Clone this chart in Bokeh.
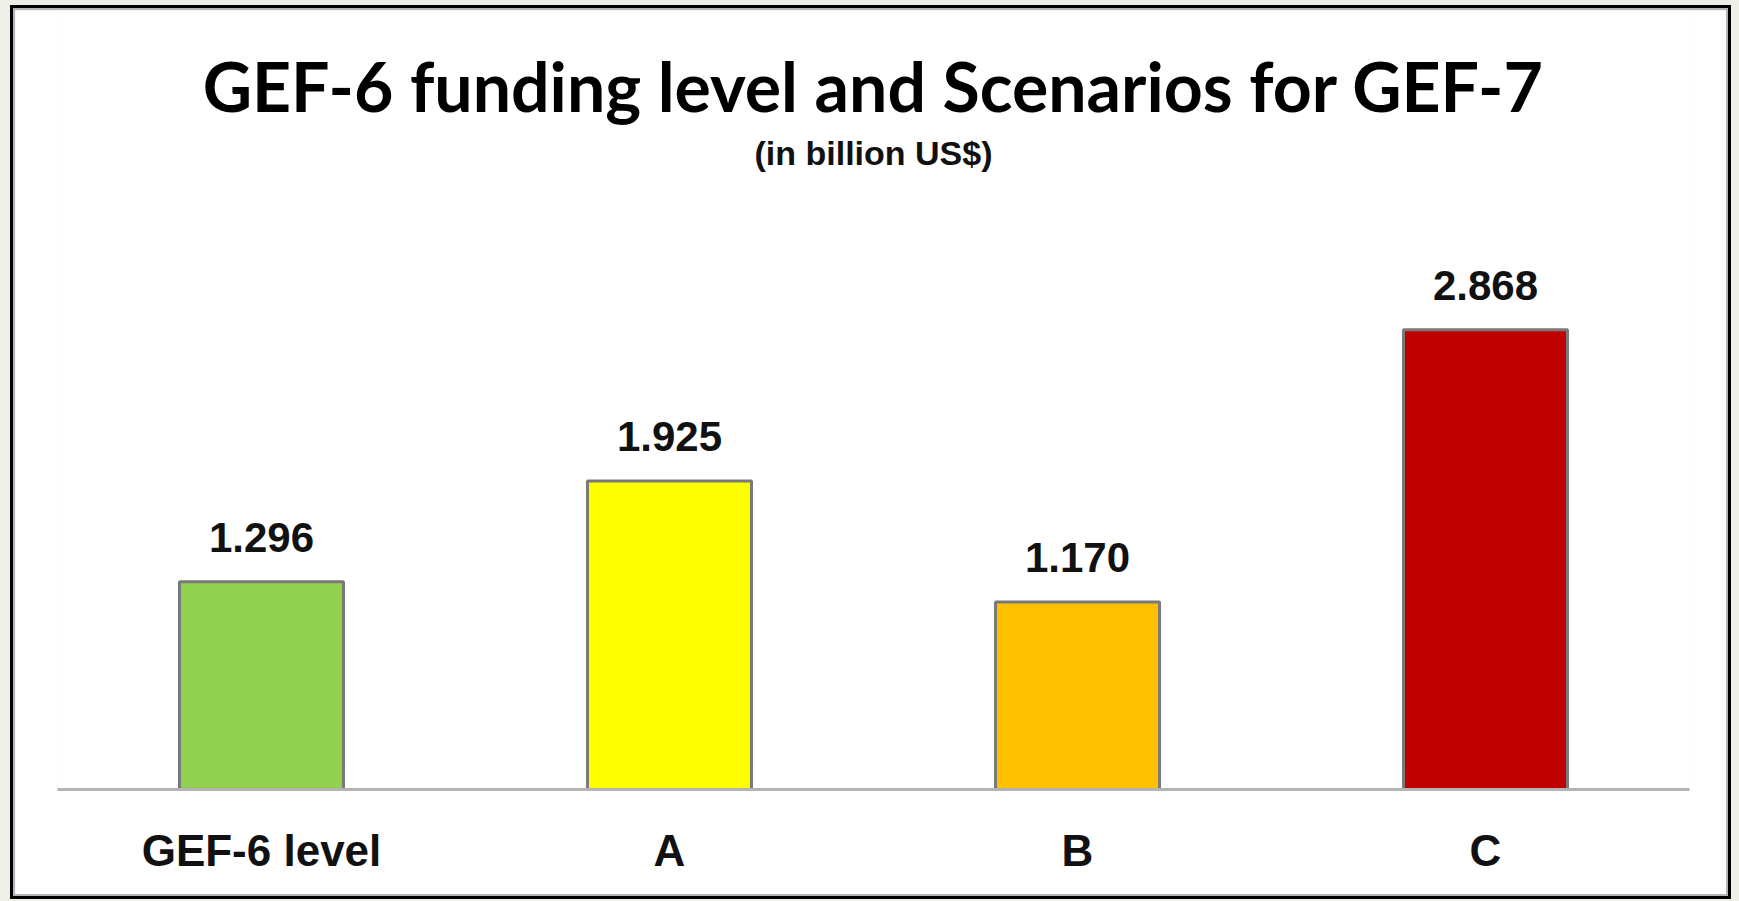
from bokeh.plotting import figure
from bokeh.models import FactorRange, Range1d, Label, GlobalInlineStyleSheet
from bokeh.core.properties import value
from bokeh.embed import file_html
from bokeh.resources import INLINE

categories = ["GEF-6 level", "A", "B", "C"]
values = [1.296, 1.925, 1.170, 2.868]
value_labels = ["1.296", "1.925", "1.170", "2.868"]
colors = ["#92D050", "#FFFF00", "#FFC000", "#C00000"]
title_text = "GEF-6 funding level and Scenarios for GEF-7"
subtitle_text = "(in billion US$)"

SANS = "Liberation Sans"

p = figure(
    width=1715, height=888,
    x_range=FactorRange(*categories, range_padding=0),
    y_range=Range1d(0, 4.86),
    output_backend="svg", toolbar_location=None,
    min_border_left=42, min_border_right=41, min_border_top=0, min_border_bottom=109,
)
p.stylesheets = [GlobalInlineStyleSheet(
    css="html, body { background: #f0efe7; } body { padding: 8px 0 0 13px !important; box-sizing: border-box; overflow: hidden; }")]
p.styles = {"border": "2px solid #b4b4b4", "outline": "3px solid #000000"}

p.background_fill_color = "white"
p.border_fill_color = "white"
p.outline_line_color = None
p.grid.grid_line_color = None
p.yaxis.visible = False

xa = p.xaxis[0]
xa.axis_line_color = "#b4b4b4"
xa.axis_line_width = 3
xa.major_tick_line_color = None
xa.minor_tick_line_color = None
xa.major_label_text_font = SANS
xa.major_label_text_font_style = "bold"
xa.major_label_text_font_size = "44px"
xa.major_label_text_color = "#111111"
xa.major_label_standoff = 30

p.vbar(x=categories, top=values, width=0.402, bottom=0,
       fill_color=colors, line_color="#7a7a7a", line_width=3)

p.text(x=categories, y=values, text=value_labels, y_offset=-44,
       text_align="center", text_baseline="alphabetic",
       text_font=value(SANS), text_font_style="bold",
       text_font_size="42px", text_color="#111111")

p.add_layout(Label(x=816, y=704, x_units="screen", y_units="screen",
                   text=title_text, text_align="center", text_baseline="alphabetic",
                   text_font="Lato", text_font_style="bold", text_font_size="68px",
                   text_color="#000000"))
p.add_layout(Label(x=816, y=637, x_units="screen", y_units="screen",
                   text=subtitle_text, text_align="center", text_baseline="alphabetic",
                   text_font=SANS, text_font_style="bold", text_font_size="34px",
                   text_color="#111111"))

open("out.html", "w").write(file_html(p, INLINE))
